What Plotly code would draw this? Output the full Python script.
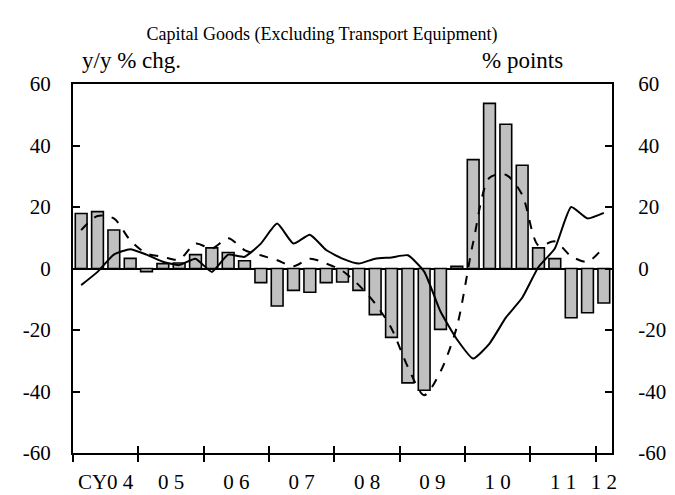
import plotly.graph_objects as go

# Quarterly data, 2004 Q1 .. 2012 Q1 (33 quarters)
quarters = list(range(33))

# Contribution bars (% points)
contrib = [17.9, 18.5, 12.5, 3.3, -1.0, 1.6, 1.8, 4.5, 6.7, 5.2, 2.5,
           -4.6, -12.2, -7.1, -7.7, -4.6, -4.4, -7.1, -15.0, -22.4, -37.2,
           -39.6, -19.8, 0.7, 35.4, 53.7, 46.9, 33.6, 6.7, 3.2, -16.0,
           -14.4, -11.2]

# Solid line (y/y % chg.)
solid = [-5.4, -1.1, 4.5, 6.3, 4.5, 2.2, 1.1, 3.2, -1.1, 4.5, 3.8,
         8.1, 14.6, 8.1, 11.0, 6.0, 3.2, 1.6, 3.2, 3.6, 4.3,
         -1.0, -14.0, -23.0, -29.3, -24.4, -16.0, -9.5, 0.5, 6.5, 20.0,
         16.3, 18.1]

# Dashed line (y/y % chg.)
dashed = [12.5, 17.1, 16.3, 9.2, 4.9, 3.8, 2.9, 8.1, 6.5, 9.8, 6.0,
          4.3, 2.7, 0.7, 3.2, 1.6, -0.8, -5.4, -11.4, -19.5, -32.0,
          -41.2, -33.5, -19.0, 8.5, 29.5, 30.5, 24.0, 7.5, 8.8, 4.0,
          2.2, 7.0]

# Year labels centred on each year, ticks on year boundaries
year_centers = [1.5, 5.5, 9.5, 13.5, 17.5, 21.5, 25.5, 29.5, 32.0]
year_labels = ["CY0 4", "0 5", "0 6", "0 7", "0 8", "0 9", "1 0", "1 1", "1 2"]
year_bounds = [-0.5, 3.5, 7.5, 11.5, 15.5, 19.5, 23.5, 27.5, 31.5]

y_ticks = [60, 40, 20, 0, -20, -40, -60]
y_ticktext = ["60", "40", "20", "0", "-20", "-40", "-60"]

FONT = "Liberation Serif, Times New Roman, serif"

fig = go.Figure()
# Bars on the base axes so the lines (on the overlaying axes) sit on top
fig.add_trace(go.Bar(
    x=quarters, y=contrib,
    marker=dict(color="#c0c0c0", line=dict(color="black", width=1.6)),
    xaxis="x", yaxis="y", showlegend=False,
))
fig.add_trace(go.Scatter(
    x=quarters, y=dashed, mode="lines", xaxis="x2", yaxis="y2",
    line=dict(color="black", width=2, dash="dash", shape="spline", smoothing=0.8),
    showlegend=False,
))
fig.add_trace(go.Scatter(
    x=quarters, y=solid, mode="lines", xaxis="x2", yaxis="y2",
    line=dict(color="black", width=2, shape="spline", smoothing=0.5),
    showlegend=False,
))

fig.update_layout(
    width=675, height=495,
    margin=dict(l=73, r=63, t=84, b=42, autoexpand=False),
    paper_bgcolor="white", plot_bgcolor="white",
    font=dict(family=FONT, color="black", size=21),
    bargap=0.28,
    title=dict(text="Capital Goods (Excluding Transport Equipment)",
               x=0.477, xanchor="center", y=0.932, yanchor="middle",
               font=dict(size=18, family=FONT)),
    xaxis=dict(
        range=[-0.5, 32.5], tickvals=year_centers, ticktext=year_labels,
        ticks="", showgrid=False, zeroline=False, automargin=False,
        showline=True, linecolor="black", linewidth=2, mirror=True,
        ticklabelstandoff=9,
        minor=dict(tickvals=year_bounds, ticks="outside", ticklen=7,
                   tickwidth=2, tickcolor="black", showgrid=False),
        tickfont=dict(size=21, family=FONT),
    ),
    xaxis2=dict(
        range=[-0.5, 32.5], overlaying="x", anchor="y2", side="bottom",
        tickvals=year_bounds, ticks="inside", ticklen=7, tickwidth=2,
        tickcolor="black", showticklabels=False, showgrid=False,
        zeroline=False, showline=False, automargin=False,
    ),
    yaxis=dict(
        range=[-60, 60], tickvals=y_ticks, ticktext=y_ticktext,
        ticks="inside", ticklen=7, tickwidth=2, tickcolor="black",
        showgrid=False, automargin=False,
        zeroline=True, zerolinecolor="black", zerolinewidth=2,
        showline=True, linecolor="black", linewidth=2, mirror=True,
        ticklabelstandoff=16, tickfont=dict(size=21, family=FONT),
    ),
    yaxis2=dict(
        range=[-60, 60], tickvals=y_ticks, ticktext=y_ticktext,
        ticks="inside", ticklen=7, tickwidth=2, tickcolor="black",
        showgrid=False, zeroline=False,
        overlaying="y", side="right", anchor="x2", automargin=False,
        showline=True, linecolor="black", linewidth=2,
        ticklabelstandoff=20, tickfont=dict(size=21, family=FONT),
    ),
    annotations=[
        dict(text="y/y % chg.", xref="paper", yref="paper",
             x=(131 - 73) / 539, y=1.065, xanchor="center", yanchor="middle",
             showarrow=False, font=dict(size=23, family=FONT)),
        dict(text="% points", xref="paper", yref="paper",
             x=(522 - 73) / 539, y=1.065, xanchor="center", yanchor="middle",
             showarrow=False, font=dict(size=23, family=FONT)),
    ],
)

fig.write_html("out.html")
